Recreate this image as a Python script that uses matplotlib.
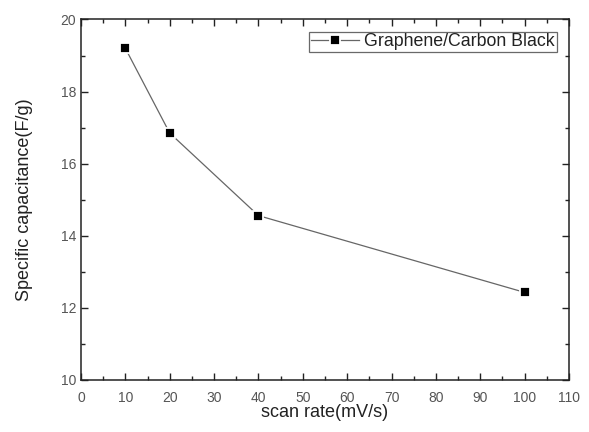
import matplotlib
matplotlib.use("Agg")
import matplotlib.pyplot as plt
from matplotlib.ticker import MultipleLocator

plt.rcParams['font.family'] = ['Liberation Sans', 'DejaVu Sans']

scan_rate = [10, 20, 40, 100]
capacitance = [19.2, 16.85, 14.56, 12.43]
series_label = "Graphene/Carbon Black"

fig = plt.figure(figsize=(5.89, 4.32), dpi=100)
ax = fig.add_axes([0.1375, 0.1204, 0.8285, 0.8345])

ax.plot(scan_rate, capacitance, color='#666666', lw=0.9, marker='s',
        markersize=7.5, markerfacecolor='black', markeredgecolor='white',
        markeredgewidth=1.3, label=series_label)

ax.set_xlim(0, 110)
ax.set_ylim(10, 20)
ax.xaxis.set_major_locator(MultipleLocator(10))
ax.xaxis.set_minor_locator(MultipleLocator(5))
ax.yaxis.set_major_locator(MultipleLocator(2))
ax.yaxis.set_minor_locator(MultipleLocator(1))
ax.tick_params(which='both', direction='in', top=True, right=True,
               colors='#222222', labelcolor='#555555', labelsize=10, width=1.0)
ax.tick_params(which='major', length=5)
ax.tick_params(which='minor', length=3)
ax.tick_params(axis='x', pad=8)
for sp in ax.spines.values():
    sp.set_linewidth(1.1)
    sp.set_color('#222222')

ax.set_xlabel('scan rate(mV/s)', fontsize=13, color='#222222')
ax.set_ylabel('Specific capacitance(F/g)', fontsize=13, color='#222222')
ax.xaxis.set_label_coords(0.5, -0.066)
ax.yaxis.set_label_coords(-0.099, 0.5)

leg = ax.legend(loc='upper right', fontsize=12.8, frameon=True, fancybox=False,
                edgecolor='#444444', handlelength=2.7, borderpad=0.1,
                handletextpad=0.3, borderaxespad=0.68)
leg.get_frame().set_linewidth(0.9)
for t in leg.get_texts():
    t.set_color('#222222')

fig.savefig('out.png', dpi=100)
